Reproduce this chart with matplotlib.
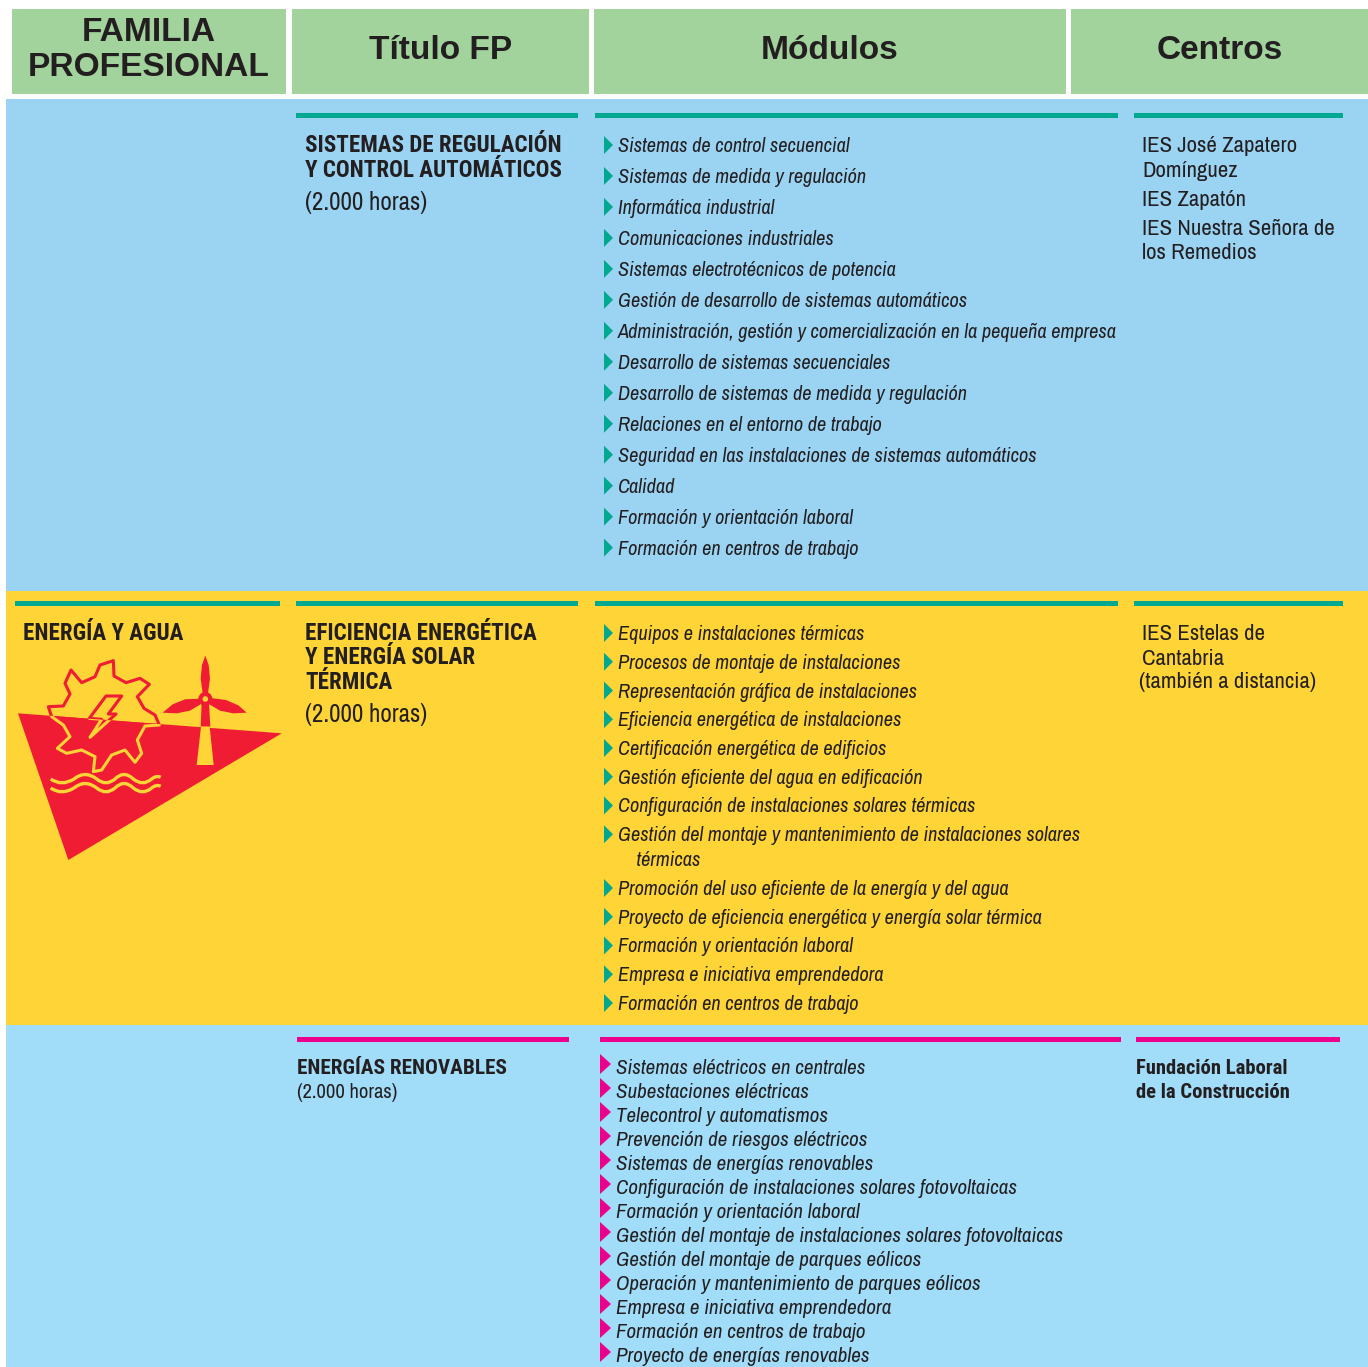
import matplotlib
matplotlib.use("Agg")
import matplotlib.pyplot as plt
from matplotlib.patches import Rectangle, Polygon, Circle, PathPatch
from matplotlib.path import Path

headers = ["FAMILIA\nPROFESIONAL", "Título FP", "Módulos", "Centros"]

modulos_1 = ["Sistemas de control secuencial", "Sistemas de medida y regulación", "Informática industrial",
             "Comunicaciones industriales", "Sistemas electrotécnicos de potencia",
             "Gestión de desarrollo de sistemas automáticos",
             "Administración, gestión y comercialización en la pequeña empresa",
             "Desarrollo de sistemas secuenciales", "Desarrollo de sistemas de medida y regulación",
             "Relaciones en el entorno de trabajo", "Seguridad en las instalaciones de sistemas automáticos",
             "Calidad", "Formación y orientación laboral", "Formación en centros de trabajo"]
modulos_2 = ["Equipos e instalaciones térmicas", "Procesos de montaje de instalaciones",
             "Representación gráfica de instalaciones", "Eficiencia energética de instalaciones",
             "Certificación energética de edificios", "Gestión eficiente del agua en edificación",
             "Configuración de instalaciones solares térmicas",
             "Gestión del montaje y mantenimiento de instalaciones solares\n    térmicas",
             "Promoción del uso eficiente de la energía y del agua",
             "Proyecto de eficiencia energética y energía solar térmica",
             "Formación y orientación laboral", "Empresa e iniciativa emprendedora",
             "Formación en centros de trabajo"]
modulos_3 = ["Sistemas eléctricos en centrales", "Subestaciones eléctricas", "Telecontrol y automatismos",
             "Prevención de riesgos eléctricos", "Sistemas de energías renovables",
             "Configuración de instalaciones solares fotovoltaicas", "Formación y orientación laboral",
             "Gestión del montaje de instalaciones solares fotovoltaicas", "Gestión del montaje de parques eólicos",
             "Operación y mantenimiento de parques eólicos", "Empresa e iniciativa emprendedora",
             "Formación en centros de trabajo", "Proyecto de energías renovables"]

BLUE1 = "#9BD3F3"
BLUE2 = "#A1DCF8"
YELLOW = "#FFD436"
GREEN = "#A3D39C"
TEAL = "#00A88F"
PINK = "#EC008C"
RED = "#EF1C33"
INK = "#231F20"
NARROW = ["Archivo Narrow", "Roboto Condensed", "Liberation Sans"]
BOLD = ["Roboto Condensed", "Liberation Sans"]

fig = plt.figure(figsize=(13.68, 13.67), dpi=100)
ax = fig.add_axes([0, 0, 1, 1])
ax.set_xlim(0, 1368)
ax.set_ylim(1367, 0)
ax.axis("off")


def px(size):
    return size * 0.72


def box(x0, y0, x1, y1, color):
    ax.add_patch(Rectangle((x0, y0), x1 - x0, y1 - y0, fc=color, ec="none"))


def txt(x, y, s, size, weight="normal", style="normal", family=NARROW, **kw):
    ax.text(x, y, s, fontsize=px(size), fontweight=weight, fontstyle=style, family=family,
            color=INK, va="baseline", **kw)


# fondos y cabecera
box(6, 99, 1368, 591, BLUE1)
box(6, 591, 1368, 1025, YELLOW)
box(6, 1025, 1368, 1367, BLUE2)
for (x0, x1), h in zip([(12, 286), (292, 589), (594, 1066), (1071, 1368)], headers):
    box(x0, 9, x1, 94, GREEN)
    if "\n" in h:
        a, b = h.split("\n")
        for y, line in ((41, a), (76, b)):
            ax.text((x0 + x1) / 2, y, line, fontsize=px(33.5), fontweight="bold", family="Liberation Sans",
                    color=INK, ha="center", va="baseline")
    else:
        ax.text((x0 + x1) / 2, 59, h, fontsize=px(33.5), fontweight="bold", family="Liberation Sans",
                color=INK, ha="center", va="baseline")

# lineas de color
for x0, x1 in [(296, 578), (595, 1118), (1134, 1343)]:
    box(x0, 113, x1, 117.5, TEAL)
for x0, x1 in [(15, 280), (296, 578), (595, 1118), (1134, 1343)]:
    box(x0, 601, x1, 605.5, TEAL)
for x0, x1 in [(297, 569), (600, 1121), (1136, 1340)]:
    box(x0, 1037, x1, 1042, PINK)


def bullets(items, y0, step, x_tri, x_txt, size, color, tri_w, tri_h, tri_dy, wrap=0):
    y = y0
    for it in items:
        ax.add_patch(Polygon([(x_tri, y + tri_dy - tri_h), (x_tri + tri_w, y + tri_dy),
                              (x_tri, y + tri_dy + tri_h)], fc=color, ec="none"))
        lines = it.split("\n")
        for i, line in enumerate(lines):
            txt(x_txt, y + i * wrap, line.strip() if i == 0 else line, size, style="italic")
        y += step + (len(lines) - 1) * wrap


bullets(modulos_1, 152, 30.97, 604, 618, 20.3, TEAL, 9, 9, -7)
bullets(modulos_2, 640, 28.75, 604, 618, 20.3, TEAL, 9, 9, -7, wrap=25)
bullets(modulos_3, 1074, 24, 600, 616, 21, PINK, 11, 10, -10)

# titulos
txt(305, 152, "SISTEMAS DE REGULACIÓN", 23, weight="bold", family=BOLD)
txt(305, 177, "Y CONTROL AUTOMÁTICOS", 23, weight="bold", family=BOLD)
txt(305, 210, "(2.000 horas)", 25)
txt(305, 640, "EFICIENCIA ENERGÉTICA", 23, weight="bold", family=BOLD)
txt(305, 664, "Y ENERGÍA SOLAR", 23, weight="bold", family=BOLD)
txt(305, 689, "TÉRMICA", 23, weight="bold", family=BOLD)
txt(305, 722, "(2.000 horas)", 25)
txt(297, 1074, "ENERGÍAS RENOVABLES", 21.3, weight="bold", family=BOLD)
txt(297, 1098, "(2.000 horas)", 20.5)

# centros
for y, s in [(152, "IES José Zapatero"), (177, "Domínguez"), (206, "IES Zapatón"),
             (235, "IES Nuestra Señora de"), (259, "los Remedios")]:
    txt(1142, y, s, 22.8)
txt(1142, 640, "IES Estelas de", 22.8)
txt(1142, 665, "Cantabria", 22.8)
txt(1139, 688, "(también a distancia)", 22.8)
txt(1136, 1074, "Fundación Laboral", 20.6, weight="bold", family=BOLD)
txt(1136, 1098, "de la Construcción", 20.6, weight="bold", family=BOLD)
txt(23, 640, "ENERGÍA Y AGUA", 23, weight="bold", family=BOLD)


# icono, puntos tomados del recorte ampliado
def z(pts):
    return [(x / 3, 590 + y / 3) for x, y in pts]


triangle = Polygon(z([(54, 370), (845, 430), (205, 810)]), fc=RED, ec="none", zorder=2)
gear_pts = z([(340, 212), (342, 258), (378, 278), (420, 265), (448, 283), (412, 320), (432, 355), (465, 375),
              (478, 405), (435, 408), (412, 450), (425, 490), (405, 517), (375, 480), (335, 495), (305, 540),
              (280, 545), (285, 500), (245, 480), (200, 490), (172, 475), (210, 440), (190, 405), (155, 380),
              (145, 350), (190, 348), (210, 312), (195, 280), (213, 240), (245, 278), (285, 260), (300, 225)])
bolt_pts = z([(318, 318), (365, 318), (325, 372), (348, 372), (270, 442), (305, 388), (268, 385)])
for pts in (gear_pts, bolt_pts):
    ax.add_patch(Polygon(pts, fc=YELLOW, ec=RED, lw=2.2, joinstyle="round", zorder=1))
ax.add_patch(triangle)
for pts in (gear_pts, bolt_pts):
    p = Polygon(pts, fc=RED, ec=YELLOW, lw=2.2, joinstyle="round", zorder=3)
    ax.add_patch(p)
    p.set_clip_path(triangle)

wave = [(152, 567), (185, 590), (222, 567), (255, 540), (290, 567), (318, 590), (345, 567),
        (372, 540), (400, 567), (428, 590), (455, 567), (470, 555), (482, 562)]
for dy in (0, 27):
    verts = z([(x, y + dy) for x, y in wave])
    codes = [Path.MOVETO] + [Path.CURVE3] * (len(wave) - 1)
    ax.add_patch(PathPatch(Path(verts, codes), fc="none", ec=YELLOW, lw=2.4, zorder=4))

ax.add_patch(Polygon(z([(605, 340), (627, 340), (631, 410), (602, 410)]), fc=RED, ec="none", zorder=1))
ax.add_patch(Polygon(z([(603, 410), (629, 410), (641, 525), (590, 525)]), fc=YELLOW, ec="none", zorder=4))
ax.add_patch(Polygon(z([(616, 197), (626, 225), (630, 265), (624, 310), (608, 310), (602, 265), (606, 225)]),
                     fc=RED, ec="none", zorder=1))
ax.add_patch(Polygon(z([(600, 326), (555, 328), (518, 343), (488, 368), (530, 370), (570, 362), (600, 344)]),
                     fc=RED, ec="none", zorder=1))
ax.add_patch(Polygon(z([(632, 324), (678, 330), (715, 346), (740, 368), (700, 370), (660, 362), (630, 344)]),
                     fc=RED, ec="none", zorder=1))
ax.add_patch(Circle((616 / 3, 590 + 327 / 3), 7, fc=RED, ec="none", zorder=1))
ax.add_patch(Circle((616 / 3, 590 + 327 / 3), 2.8, fc=YELLOW, ec="none", zorder=1))

fig.savefig("out.png", dpi=100)
